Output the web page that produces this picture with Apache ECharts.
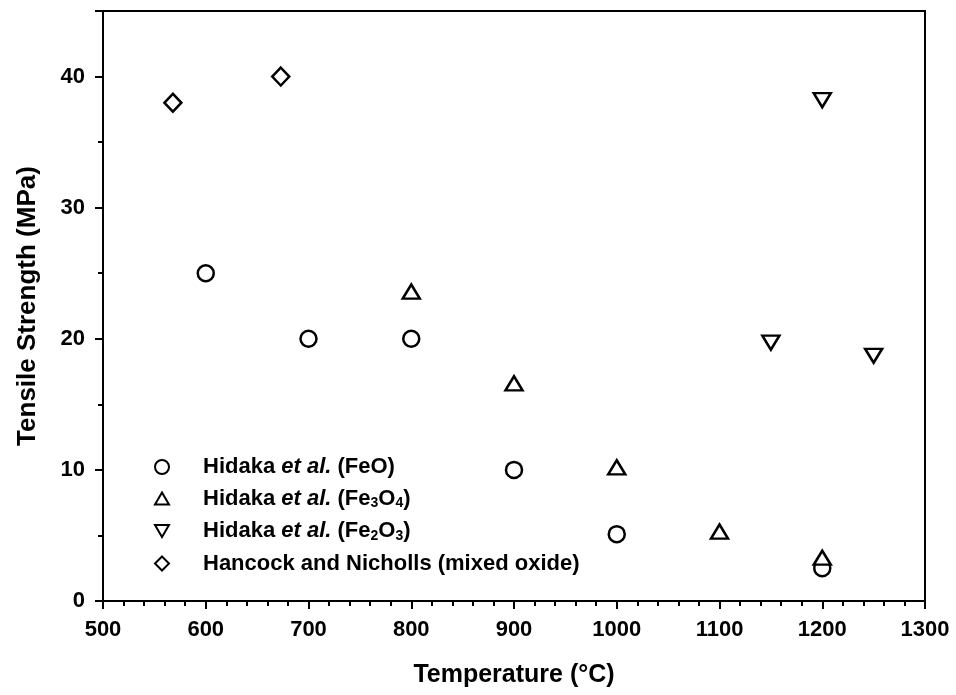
<!DOCTYPE html>
<html>
<head>
<meta charset="utf-8">
<script src="https://cdn.jsdelivr.net/npm/echarts@6/dist/echarts.min.js"></script>
<style>
  html, body { margin: 0; padding: 0; background: #fff; }
  #chart { width: 956px; height: 695px; }
</style>
</head>
<body>
<div id="chart"></div>
<script>
// Tensile strength of iron oxide scales versus temperature
const feoData    = [[600, 25], [700, 20], [800, 20], [900, 10], [1000, 5.1], [1200, 2.5]];
const fe3o4Data  = [[800, 23.6], [900, 16.6], [1000, 10.2], [1100, 5.3], [1200, 3.3]];
const fe2o3Data  = [[1150, 19.7], [1200, 38.2], [1250, 18.7]];
const hancockData = [[568, 38], [673, 40]];

const seriesNames = [
  'Hidaka et al. (FeO)',
  'Hidaka et al. (Fe3O4)',
  'Hidaka et al. (Fe2O3)',
  'Hancock and Nicholls (mixed oxide)'
];
const legendRich = {
  'Hidaka et al. (FeO)': '{n|Hidaka }{i|et al.}{n| (FeO)}',
  'Hidaka et al. (Fe3O4)': '{n|Hidaka }{i|et al.}{n| (Fe}{s|3}{n|O}{s|4}{n|)}',
  'Hidaka et al. (Fe2O3)': '{n|Hidaka }{i|et al.}{n| (Fe}{s|2}{n|O}{s|3}{n|)}',
  'Hancock and Nicholls (mixed oxide)': '{n|Hancock and Nicholls (mixed oxide)}'
};

const FONT = '"Liberation Sans", Arial, Helvetica, sans-serif';
const downTriangle = 'path://M0,0 L20,0 L10,17 Z';
const upTriangle = 'path://M10,0 L20,17 L0,17 Z';

const hollow = { color: '#fff', borderColor: '#000', borderWidth: 2.5, opacity: 1 };

const chart = echarts.init(document.getElementById('chart'), null, { renderer: 'canvas' });
chart.setOption({
  backgroundColor: '#fff',
  animation: false,
  grid: {
    left: 103, right: 31, top: 11, bottom: 94,
    show: true, borderColor: '#000', borderWidth: 2, backgroundColor: 'transparent'
  },
  legend: {
    orient: 'vertical',
    left: 149,
    top: 451,
    itemWidth: 14,
    itemHeight: 14,
    itemGap: 9.5,
    data: seriesNames,
    formatter: name => legendRich[name],
    textStyle: {
      padding: [0, 0, 0, 29],
      rich: {
        n: { fontFamily: FONT, fontSize: 22, fontWeight: 'bold', color: '#000', lineHeight: 24, verticalAlign: 'middle' },
        i: { fontFamily: FONT, fontSize: 22, fontWeight: 'bold', fontStyle: 'italic', color: '#000', lineHeight: 24, verticalAlign: 'middle' },
        s: { fontFamily: FONT, fontSize: 14, fontWeight: 'bold', color: '#000', lineHeight: 11, verticalAlign: 'bottom' }
      }
    }
  },
  xAxis: {
    type: 'value',
    min: 500, max: 1300, interval: 100,
    name: 'Temperature (°C)',
    nameLocation: 'middle',
    nameGap: 62,
    nameTextStyle: { fontFamily: FONT, fontSize: 25, fontWeight: 'bold', color: '#000' },
    axisLine: { show: true, onZero: false, lineStyle: { color: '#000', width: 2 } },
    axisTick: { show: true, inside: false, length: 8, lineStyle: { color: '#000', width: 2 } },
    minorTick: { show: true, splitNumber: 5, length: 5, lineStyle: { color: '#000', width: 2 } },
    axisLabel: { margin: 18, formatter: v => String(v), fontFamily: FONT, fontSize: 22, fontWeight: 'bold', color: '#000' },
    splitLine: { show: false },
    minorSplitLine: { show: false }
  },
  yAxis: {
    type: 'value',
    min: 0, max: 45, interval: 10,
    name: 'Tensile Strength (MPa)',
    nameLocation: 'middle',
    nameGap: 62,
    nameTextStyle: { fontFamily: FONT, fontSize: 26, fontWeight: 'bold', color: '#000' },
    axisLine: { show: true, onZero: false, lineStyle: { color: '#000', width: 2 } },
    axisTick: { show: true, inside: false, length: 8, lineStyle: { color: '#000', width: 2 } },
    minorTick: { show: true, splitNumber: 2, length: 5, lineStyle: { color: '#000', width: 2 } },
    axisLabel: { margin: 18, showMaxLabel: false, formatter: v => String(v), fontFamily: FONT, fontSize: 22, fontWeight: 'bold', color: '#000' },
    splitLine: { show: false },
    minorSplitLine: { show: false }
  },
  series: [
    { name: seriesNames[0], type: 'scatter', data: feoData, symbol: 'circle', symbolSize: 16, itemStyle: hollow },
    { name: seriesNames[1], type: 'scatter', data: fe3o4Data, symbol: upTriangle, symbolSize: [17, 14], itemStyle: hollow },
    { name: seriesNames[2], type: 'scatter', data: fe2o3Data, symbol: downTriangle, symbolSize: [17, 14], itemStyle: hollow },
    { name: seriesNames[3], type: 'scatter', data: hancockData, symbol: 'diamond', symbolSize: [17, 18], itemStyle: hollow }
  ]
});
</script>
</body>
</html>
